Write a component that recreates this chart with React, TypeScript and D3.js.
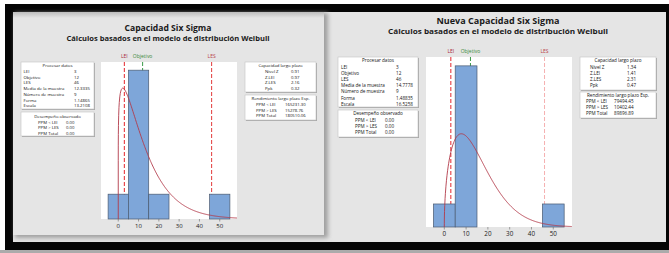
import React from "react";
import * as d3 from "d3";

// ---------- data ----------
const binEdges = [-5, 5, 15, 25, 35, 45, 55];
const xTickValues = [0, 10, 20, 30, 40, 50];
const countsActual = [1, 6, 1, 0, 0, 1];
const countsNew = [1, 7, 0, 0, 0, 1];

const specNames = ["LEI", "Objetivo", "LES"];
const specValues = [3, 12, 46];

const titleActual = "Capacidad Six Sigma";
const titleNew = "Nueva Capacidad Six Sigma";
const subtitleText = "Cálculos basados en el modelo de distribución Weibull";

const processHeader = "Procesar datos";
const processLabels = ["LEI", "Objetivo", "LES", "Media de la muestra", "Número de muestra", "Forma", "Escala"];
const processActual = ["3", "12", "46", "12.3335", "9", "1.14865", "13.2108"];
const processNew = ["3", "12", "46", "14.7778", "9", "1.48835", "16.5258"];

const observedHeader = "Desempeño observado";
const ppmLabels = ["PPM < LEI", "PPM > LES", "PPM Total"];
const observedActual = ["0.00", "0.00", "0.00"];
const observedNew = ["0.00", "0.00", "0.00"];

const capabilityHeader = "Capacidad largo plazo";
const capabilityLabels = ["Nivel Z", "Z.LEI", "Z.LES", "Ppk"];
const capabilityActual = ["0.91", "0.97", "2.16", "0.32"];
const capabilityNew = ["1.34", "1.41", "2.31", "0.47"];

const yieldHeader = "Rendimiento largo plazo Esp.";
const yieldActual = ["165231.30", "15278.76", "180510.06"];
const yieldNew = ["79494.45", "10402.44", "89896.89"];

// ---------- layout ----------
const FONT = "'Open Sans', 'Noto Sans', sans-serif";

const layoutActual = {
  title: { x: 168, y: 30.5, fs: 9, len: 87 },
  sub: { x: 168, y: 40.5, fs: 7, len: 203 },
  plot: { x0: 101, x1: 237, y0: 62, y1: 219, dom: [-8.5, 58.5] },
  tickFs: 6,
  lesColor: "#e23a3a",
  boxes: {
    process: { x: 21, y: 62, w: 73, h: 47, hy: 65.8, ry: 71.5, rs: 5.7, lx: 23.5, vx: 74, fs: 4.3 },
    observed: { x: 21, y: 112, w: 73, h: 24, hy: 116.3, ry: 122.2, rs: 5.6, lx: 38, vx: 66, fs: 4.3 },
    capability: { x: 245, y: 62, w: 71, h: 30, hy: 65.5, ry: 71.3, rs: 5.8, lx: 265, vx: 291, fs: 4.3 },
    yield: { x: 245, y: 95, w: 71, h: 25, hy: 98.8, ry: 104.5, rs: 5.5, lx: 256, vx: 285, fs: 4.3 },
  },
};

const layoutNew = {
  title: { x: 498, y: 24.3, fs: 9.5, len: 123 },
  sub: { x: 498, y: 34.2, fs: 7.2, len: 220 },
  plot: { x0: 426, x1: 572, y0: 57, y1: 227, dom: [-8.4, 58.6] },
  tickFs: 6.3,
  lesColor: "#f5b0b0",
  boxes: {
    process: { x: 338, y: 57, w: 80, h: 50, hy: 60.6, ry: 67, rs: 6.2, lx: 341, vx: 396, fs: 4.6 },
    observed: { x: 338, y: 110, w: 80, h: 27, hy: 113.8, ry: 120.2, rs: 6, lx: 355, vx: 385, fs: 4.6 },
    capability: { x: 580, y: 57, w: 76, h: 33, hy: 60.6, ry: 67, rs: 6.1, lx: 590, vx: 627, fs: 4.6 },
    yield: { x: 580, y: 92, w: 76, h: 26, hy: 95.6, ry: 101.8, rs: 6, lx: 586, vx: 614, fs: 4.6 },
  },
};

function weibullPdf(x: number, k: number, lam: number) {
  if (x <= 0) return 0;
  const z = x / lam;
  return (k / lam) * Math.pow(z, k - 1) * Math.exp(-Math.pow(z, k));
}

type BoxCfg = { x: number; y: number; w: number; h: number; hy: number; ry: number; rs: number; lx: number; vx: number; fs: number };

function InfoBox({ cfg, header, labels, values }: { cfg: BoxCfg; header: string; labels: string[]; values: string[] }) {
  return (
    <g fontFamily={FONT} fill="#111">
      <rect x={cfg.x + 1} y={cfg.y + 1} width={cfg.w} height={cfg.h} fill="#a8a8a8" />
      <rect x={cfg.x} y={cfg.y} width={cfg.w} height={cfg.h} fill="#ffffff" stroke="#c4c4c4" strokeWidth={0.6} />
      <text x={cfg.x + cfg.w / 2} y={cfg.hy} dy="0.35em" fontSize={cfg.fs} textAnchor="middle">
        {header}
      </text>
      {labels.map((l, i) => (
        <g key={i}>
          <text x={cfg.lx} y={cfg.ry + i * cfg.rs} dy="0.35em" fontSize={cfg.fs}>
            {l}
          </text>
          <text x={cfg.vx} y={cfg.ry + i * cfg.rs} dy="0.35em" fontSize={cfg.fs}>
            {values[i]}
          </text>
        </g>
      ))}
    </g>
  );
}

function Panel({ layout, title, counts, process, observed, capability, yields, id }: any) {
  const p = layout.plot;
  const x = d3.scaleLinear().domain(p.dom).range([p.x0, p.x1]);
  const maxCount = d3.max(counts as number[]) as number;
  const y = d3.scaleLinear().domain([0, maxCount * 1.055]).range([p.y1, p.y0]);
  const n = d3.sum(counts as number[]);
  const bw = binEdges[1] - binEdges[0];
  const k = parseFloat(process[5]);
  const lam = parseFloat(process[6]);
  const sampleXs = [0, 0.004, 0.02, 0.05, 0.1, 0.2, 0.35, 0.5, ...d3.range(0.75, p.dom[1] + 0.01, 0.25)];
  const curve = d3
    .line<number>()
    .x((v) => x(v))
    .y((v) => y(weibullPdf(v, k, lam) * n * bw))(sampleXs);

  const specColors = ["#e4262c", "#3a9a48", layout.lesColor];
  const specLabelColors = ["#a8283c", "#3a8a3a", "#b8404a"];

  return (
    <g>
      <text
        x={layout.title.x}
        y={layout.title.y}
        fontFamily={FONT}
        fontWeight="bold"
        fontSize={layout.title.fs}
        textAnchor="middle"
        textLength={layout.title.len}
        lengthAdjust="spacingAndGlyphs"
        fill="#1a1a1a"
      >
        {title}
      </text>
      <text
        x={layout.sub.x}
        y={layout.sub.y}
        fontFamily={FONT}
        fontWeight="bold"
        fontSize={layout.sub.fs}
        textAnchor="middle"
        textLength={layout.sub.len}
        lengthAdjust="spacingAndGlyphs"
        fill="#1a1a1a"
      >
        {subtitleText}
      </text>

      <InfoBox cfg={layout.boxes.process} header={processHeader} labels={processLabels} values={process} />
      <InfoBox cfg={layout.boxes.observed} header={observedHeader} labels={ppmLabels} values={observed} />
      <InfoBox cfg={layout.boxes.capability} header={capabilityHeader} labels={capabilityLabels} values={capability} />
      <InfoBox cfg={layout.boxes.yield} header={yieldHeader} labels={ppmLabels} values={yields} />

      <defs>
        <clipPath id={`clip-${id}`}>
          <rect x={p.x0} y={p.y0} width={p.x1 - p.x0} height={p.y1 - p.y0} />
        </clipPath>
      </defs>
      <rect x={p.x0} y={p.y0} width={p.x1 - p.x0} height={p.y1 - p.y0} fill="#ffffff" />

      {specValues.map((v, i) => (
        <line
          key={i}
          x1={x(v)}
          x2={x(v)}
          y1={p.y0}
          y2={p.y1}
          stroke={specColors[i]}
          strokeWidth={1}
          strokeDasharray="4,2"
        />
      ))}
      {specNames.map((s, i) => (
        <text
          key={i}
          x={x(specValues[i])}
          y={p.y0 - 4}
          fontFamily={FONT}
          fontSize={5}
          textAnchor="middle"
          fill={specLabelColors[i]}
        >
          {s}
        </text>
      ))}

      {(counts as number[]).map((c, i) =>
        c > 0 ? (
          <rect
            key={i}
            x={x(binEdges[i])}
            y={y(c)}
            width={x(binEdges[i + 1]) - x(binEdges[i])}
            height={y(0) - y(c)}
            fill="#7ea6d9"
            stroke="#4a5a70"
            strokeWidth={0.7}
          />
        ) : null
      )}

      <path d={curve || ""} fill="none" stroke="#b23a4a" strokeWidth={0.9} clipPath={`url(#clip-${id})`} />

      {xTickValues.map((t) => (
        <g key={t}>
          <line x1={x(t)} x2={x(t)} y1={p.y1} y2={p.y1 + 2.5} stroke="#666" strokeWidth={0.6} />
          <text
            x={x(t)}
            y={p.y1 + 4.5}
            dy="0.71em"
            fontFamily={FONT}
            fontSize={layout.tickFs}
            textAnchor="middle"
            fill="#222"
          >
            {t}
          </text>
        </g>
      ))}
    </g>
  );
}

export default function App() {
  return (
    <svg
      width={669}
      height={253}
      viewBox="0 0 669 253"
      style={{ position: "absolute", left: 0, top: 0, display: "block" }}
    >
      <defs>
        <filter id="shadowBlur" x="-5%" y="-5%" width="110%" height="110%">
          <feGaussianBlur stdDeviation="2" />
        </filter>
        <linearGradient id="topShade" x1="0" y1="0" x2="0" y2="1">
          <stop offset="0" stopColor="#bdbdbd" />
          <stop offset="1" stopColor="#e5e5e5" />
        </linearGradient>
      </defs>
      <rect x={0} y={0} width={669} height={253} fill="#ffffff" />
      <rect x={0} y={250} width={669} height={3} fill="#ababab" />
      <rect x={5} y={4} width={664} height={246} fill="#050505" />
      <rect x={13} y={12} width={653} height={230} fill="#e5e5e5" />
      {/* left card with shadow */}
      <rect x={15} y={13} width={313} height={225} fill="#a0a0a0" filter="url(#shadowBlur)" />
      <rect x={13} y={12} width={311} height={223} fill="#e5e5e5" />
      <rect x={13} y={12} width={311} height={6} fill="url(#topShade)" />

      <Panel
        id="a"
        layout={layoutActual}
        title={titleActual}
        counts={countsActual}
        process={processActual}
        observed={observedActual}
        capability={capabilityActual}
        yields={yieldActual}
      />
      <Panel
        id="b"
        layout={layoutNew}
        title={titleNew}
        counts={countsNew}
        process={processNew}
        observed={observedNew}
        capability={capabilityNew}
        yields={yieldNew}
      />
    </svg>
  );
}
